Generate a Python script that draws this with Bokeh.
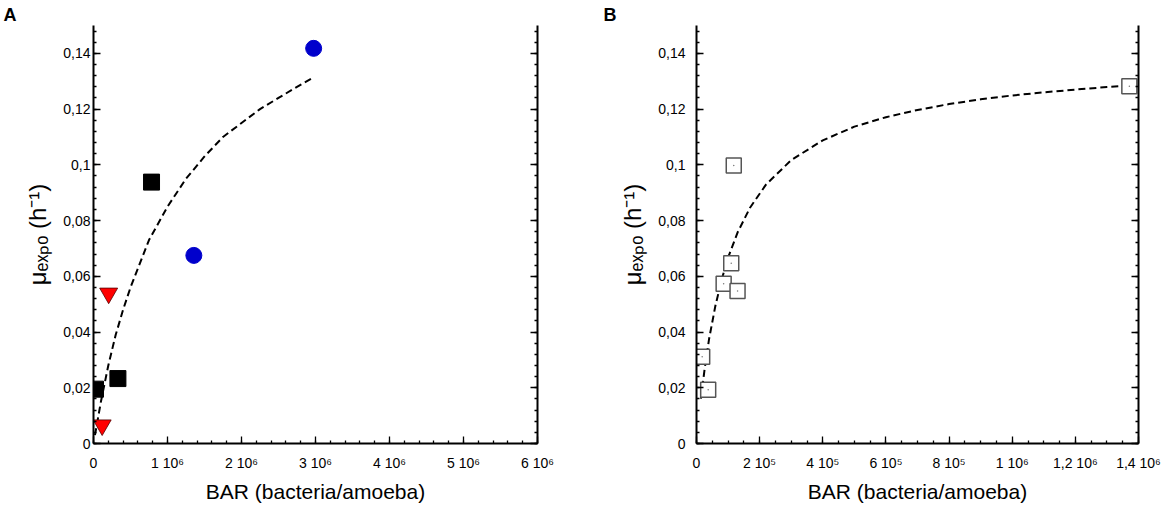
from bokeh.plotting import figure
from bokeh.models import FixedTicker, LinearAxis, Range1d, CustomJSTickFormatter
from bokeh.layouts import row
from bokeh.embed import file_html
from bokeh.resources import INLINE

# ---- Panel A data ----
a_sq_x = [27000, 330000, 784000]
a_sq_y = [0.0195, 0.0233, 0.0938]
a_tri_x = [117000, 205000]
a_tri_y = [0.0066, 0.0539]
a_circ_x = [1356000, 2975000]
a_circ_y = [0.0675, 0.1418]
a_fit_x = [20000, 100000, 200000, 300000, 400000, 500000, 750000, 1000000,
           1250000, 1500000, 1750000, 2000000, 2250000, 2500000, 2750000, 2950000]
a_fit_y = [0.003, 0.015, 0.028, 0.039, 0.048, 0.056, 0.073, 0.085,
           0.095, 0.103, 0.110, 0.115, 0.120, 0.124, 0.128, 0.131]

# ---- Panel B data ----
b_x = [18000, 37000, 86000, 110000, 130000, 118000, 1371000]
b_y = [0.0311, 0.0193, 0.0573, 0.0647, 0.0547, 0.0998, 0.1282]
b_fit_x = [14000, 25000, 40000, 60000, 80000, 100000, 130000, 170000, 220000,
           300000, 400000, 500000, 600000, 700000, 800000, 900000, 1000000,
           1100000, 1200000, 1300000, 1380000]
b_fit_y = [0.0161, 0.0261, 0.0376, 0.0495, 0.0589, 0.0667, 0.0757, 0.0847, 0.0929,
           0.1017, 0.1088, 0.1137, 0.1171, 0.1197, 0.1218, 0.1235, 0.1249,
           0.1260, 0.1270, 0.1279, 0.1285]

# ---- Ticks ----
y_ticks = [0, 0.02, 0.04, 0.06, 0.08, 0.1, 0.12, 0.14]
y_labels = ["0", "0,02", "0,04", "0,06", "0,08", "0,1", "0,12", "0,14"]
a_x_ticks = [0, 1000000, 2000000, 3000000, 4000000, 5000000, 6000000]
a_x_labels = ["0", "1 10\u2076", "2 10\u2076", "3 10\u2076", "4 10\u2076", "5 10\u2076", "6 10\u2076"]
b_x_ticks = [0, 200000, 400000, 600000, 800000, 1000000, 1200000, 1400000]
b_x_labels = ["0", "2 10\u2075", "4 10\u2075", "6 10\u2075", "8 10\u2075", "1 10\u2076", "1,2 10\u2076", "1,4 10\u2076"]

x_title = "BAR (bacteria/amoeba)"
y_title = "\u03bc\u2091\u2093\u209a\u2092 (h\u207b\u00b9)"

FONT = "Liberation Sans"
BLACK = "#000000"


def style_axis(ax, ticker, overrides, standoff, label_standoff):
    ax.ticker = ticker
    ax.major_label_overrides = overrides
    ax.axis_line_width = 2
    ax.axis_line_color = BLACK
    ax.major_tick_in = 7
    ax.major_tick_out = 0
    ax.minor_tick_in = 3
    ax.minor_tick_out = 0
    ax.major_tick_line_width = 1.3
    ax.minor_tick_line_width = 1.3
    ax.major_tick_line_color = BLACK
    ax.minor_tick_line_color = BLACK
    ax.major_label_text_font = FONT
    ax.major_label_text_font_size = "14px"
    ax.major_label_text_color = BLACK
    ax.major_label_standoff = standoff
    ax.axis_label_text_font = FONT
    ax.axis_label_text_font_style = "normal"
    ax.axis_label_text_color = BLACK
    ax.axis_label_standoff = label_standoff


def make_panel(width, border_left, border_right, x_end, x_ticks, x_labels, x_minor,
               y_standoff, letter):
    p = figure(width=width, height=505, output_backend="svg", toolbar_location=None,
               x_range=Range1d(0, x_end), y_range=Range1d(0, 0.15),
               min_border_left=border_left, min_border_right=border_right,
               min_border_top=25, min_border_bottom=62, title=letter)
    p.outline_line_color = None
    p.xgrid.visible = False
    p.ygrid.visible = False
    p.background_fill_color = "white"
    p.border_fill_color = "white"

    p.title.align = "left"
    p.title.offset = -(border_left - 3)
    p.title.text_font = FONT
    p.title.text_font_size = "18px"
    p.title.text_font_style = "bold"
    p.title.text_color = BLACK
    p.title.standoff = 1

    xt = FixedTicker(ticks=x_ticks, minor_ticks=x_minor)
    yt = FixedTicker(ticks=y_ticks, minor_ticks=[i * 0.004 for i in range(38)])

    xa = p.xaxis[0]
    style_axis(xa, xt, dict(zip(x_ticks, x_labels)), 11, 6)
    xa.axis_label = x_title
    xa.axis_label_text_font_size = "21px"

    ya = p.yaxis[0]
    style_axis(ya, yt, dict(zip(y_ticks, y_labels)), y_standoff, 9)
    ya.axis_label = y_title
    ya.axis_label_text_font_size = "24px"

    ra = LinearAxis()
    style_axis(ra, FixedTicker(ticks=y_ticks, minor_ticks=[i * 0.004 for i in range(38)]),
               {}, 0, 0)
    ra.formatter = CustomJSTickFormatter(code="return ''")
    p.add_layout(ra, "right")
    return p


pa = make_panel(600, 93, 63, 6000000, a_x_ticks, a_x_labels,
                [i * 200000 for i in range(31)], 3, "A")
pa.line(a_fit_x, a_fit_y, line_color=BLACK, line_width=2, line_dash="7 4")
pa.scatter(a_sq_x, a_sq_y, marker="square", size=16, fill_color=BLACK, line_color=BLACK)
pa.scatter(a_tri_x, a_tri_y, marker="inverted_triangle", size=18, fill_color="#ff0000",
           line_color="#550000", line_width=0.8)
pa.scatter(a_circ_x, a_circ_y, marker="circle", size=16, fill_color="#0000cc", line_color="#0000cc")

pb = make_panel(568, 96, 30, 1400000, b_x_ticks, b_x_labels,
                [i * 50000 for i in range(29)], 11, "B")
pb.line(b_fit_x, b_fit_y, line_color=BLACK, line_width=2, line_dash="7 4")
pb.scatter(b_x, b_y, marker="square", size=15, fill_color="white", line_color="#555555",
           line_width=1.5)
pb.scatter(b_x, b_y, marker="circle", size=1.5, fill_color="#777777", line_color=None)

layout = row(pa, pb)
open("out.html", "w").write(file_html(layout, INLINE))
